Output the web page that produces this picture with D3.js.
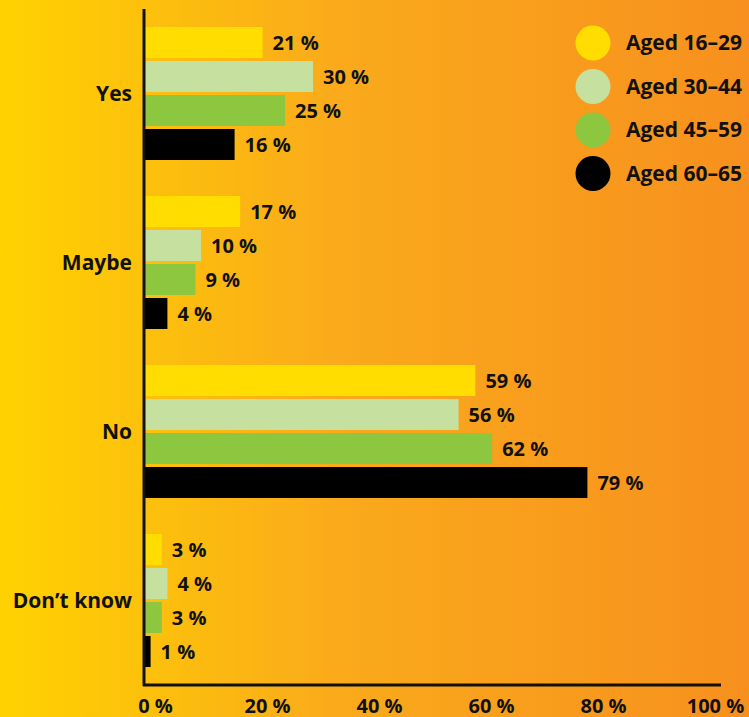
<!DOCTYPE html>
<html>
<head>
<meta charset="utf-8">
<script src="https://cdn.jsdelivr.net/npm/d3@7"></script>
<style>
  body { margin: 0; }
  svg { display: block; font-family: "Open Sans", sans-serif; font-weight: 700; }
</style>
</head>
<body>
<svg id="chart" width="749" height="717"></svg>
<script>
const categories = ['Yes', 'Maybe', 'No', 'Don’t know'];
const series = ['Aged 16–29', 'Aged 30–44', 'Aged 45–59', 'Aged 60–65'];
const colors = ['#ffdd00', '#c6e09f', '#8dc63f', '#000000'];
// values per category, one per age group
const aged16_29 = [21, 17, 59, 3];
const aged30_44 = [30, 10, 56, 4];
const aged45_59 = [25, 9, 62, 3];
const aged60_65 = [16, 4, 79, 1];
const tickValues = [0, 20, 40, 60, 80, 100];

const allValues = [aged16_29, aged30_44, aged45_59, aged60_65];
const rows = [];
categories.forEach((c, i) => {
    series.forEach((s, j) => {
        rows.push({ cat: c, ser: s, idx: j, value: allValues[j][i] });
    });
});

const svg = d3.select('#chart');

// background gradient yellow -> orange
const defs = svg.append('defs');
const grad = defs.append('linearGradient').attr('id', 'bg').attr('x1', '0').attr('x2', '1').attr('y1', '0').attr('y2', '0');
grad.append('stop').attr('offset', '0%').attr('stop-color', '#ffd200');
grad.append('stop').attr('offset', '45%').attr('stop-color', '#faaa1b');
grad.append('stop').attr('offset', '100%').attr('stop-color', '#f7901e');
svg.append('rect').attr('width', 749).attr('height', 717).attr('fill', 'url(#bg)');

const x = d3.scaleLinear().domain([0, 100]).range([145, 705]);
const y0 = d3.scaleBand().domain(categories).range([27, 667]).paddingInner(36 / 169);
const y1 = d3.scaleBand().domain(series).range([0, y0.bandwidth()]).paddingInner(3 / 34);
const color = d3.scaleOrdinal().domain(series).range(colors);

// bars
svg.append('g').selectAll('rect')
    .data(rows)
    .join('rect')
    .attr('x', x(0))
    .attr('y', d => y0(d.cat) + y1(d.ser))
    .attr('width', d => x(d.value) - x(0))
    .attr('height', y1.bandwidth())
    .attr('fill', d => color(d.ser));

// value labels
svg.append('g').selectAll('text')
    .data(rows)
    .join('text')
    .attr('x', d => x(d.value) + 10)
    .attr('y', d => y0(d.cat) + y1(d.ser) + y1.bandwidth() / 2)
    .attr('dy', '0.35em')
    .attr('font-size', 20)
    .attr('fill', '#111')
    .text(d => d.value + ' %');

// category labels
svg.append('g').selectAll('text')
    .data(categories)
    .join('text')
    .attr('x', 132)
    .attr('y', d => y0(d) + y0.bandwidth() / 2)
    .attr('dy', '0.35em')
    .attr('text-anchor', 'end')
    .attr('font-size', 21)
    .attr('fill', '#111')
    .text(d => d);

// axes lines
svg.append('line').attr('x1', 144).attr('x2', 144).attr('y1', 9).attr('y2', 686)
    .attr('stroke', '#111').attr('stroke-width', 3);
svg.append('line').attr('x1', 143).attr('x2', 721).attr('y1', 685).attr('y2', 685)
    .attr('stroke', '#111').attr('stroke-width', 3);

// x tick labels (cut by the bottom edge, as in the original)
const xAxis = d3.axisBottom(x).tickValues(tickValues).tickSize(0).tickFormat(d => d + ' %');
const gx = svg.append('g').attr('transform', 'translate(10,700)').call(xAxis);
gx.select('.domain').remove();
gx.selectAll('text').attr('font-size', 20).attr('font-family', '"Open Sans", sans-serif')
    .attr('font-weight', 700).attr('fill', '#111').attr('dy', '0.35em').attr('y', 6);

// legend
const legend = svg.append('g').selectAll('g')
    .data(series)
    .join('g')
    .attr('transform', (d, i) => `translate(593,${43 + i * 43.5})`);
legend.append('circle').attr('r', 17.5).attr('fill', d => color(d));
legend.append('text').attr('x', 33).attr('dy', '0.35em').attr('font-size', 21)
    .attr('fill', '#111').text(d => d);
</script>
</body>
</html>
